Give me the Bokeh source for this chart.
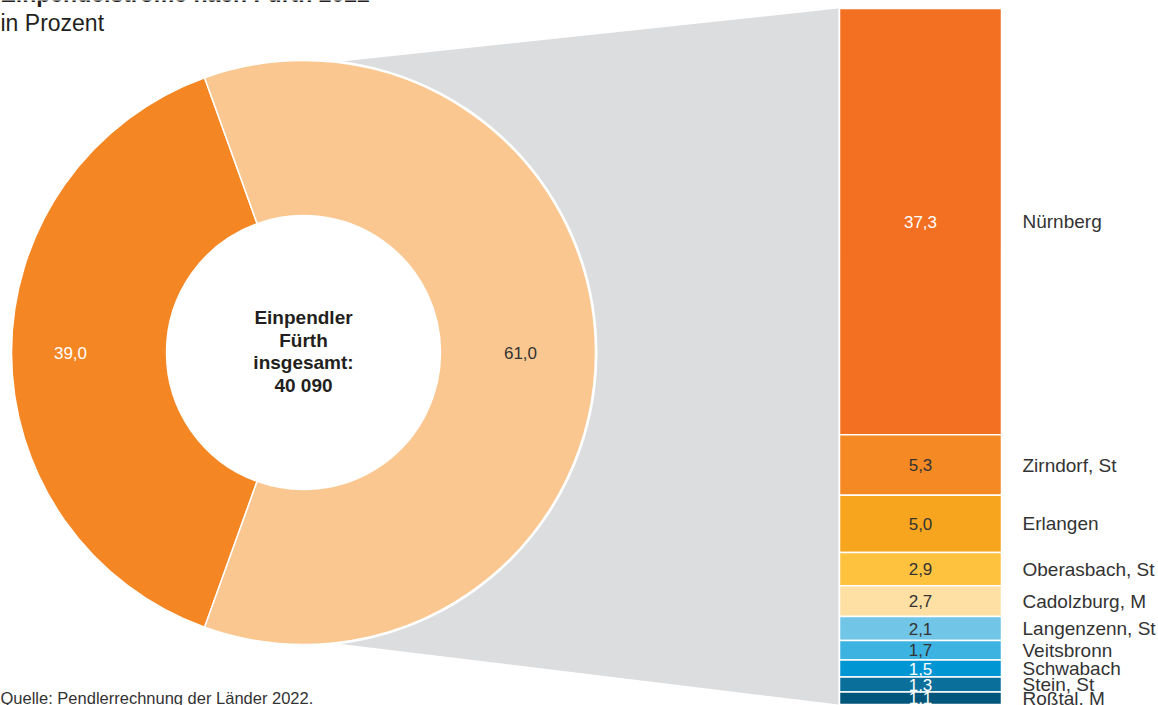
import math
from bokeh.plotting import figure
from bokeh.models import Range1d, ColumnDataSource
from bokeh.core.properties import value
from bokeh.embed import file_html
from bokeh.resources import INLINE

# ---------------- data ----------------
title_line1 = "Einpendelströme nach Fürth 2022"
subtitle = "in Prozent"
source_note = "Quelle: Pendlerrechnung der Länder 2022."
center_lines = ["Einpendler", "Fürth", "insgesamt:", "40 090"]

donut_names = ["übrige Wohnorte", "zehn wichtigste Wohnorte"]
donut_values = [39.0, 61.0]
donut_colors = ["#f58624", "#fbc791"]
donut_text_colors = ["#ffffff", "#333333"]
donut_label_radius = [233, 217]

bar_places = ["Nürnberg", "Zirndorf, St", "Erlangen", "Oberasbach, St", "Cadolzburg, M",
              "Langenzenn, St", "Veitsbronn", "Schwabach", "Stein, St", "Roßtal, M"]
bar_values = [37.3, 5.3, 5.0, 2.9, 2.7, 2.1, 1.7, 1.5, 1.3, 1.1]
bar_colors = ["#f37022", "#f58a24", "#f7a51e", "#fec23e", "#fee0a4",
              "#71c5e7", "#3db3e1", "#0096d4", "#0b6f9c", "#02557b"]
bar_text_colors = ["#ffffff", "#333333", "#333333", "#333333", "#333333",
                   "#333333", "#333333", "#ffffff", "#ffffff", "#ffffff"]

# ---------------- layout constants (pixel space) ----------------
W, H = 1158, 705
CX, CY = 303, 352          # donut centre
R_OUT, R_IN = 292, 137
BAR_LEFT, BAR_RIGHT = 839, 1001
STACK_TOP, STACK_BOTTOM = 8, 704
FONT = "Liberation Sans"
DARK = "#333333"

def de(v):
    return f"{v:.1f}".replace(".", ",")

p = figure(width=W, height=H, x_range=Range1d(0, W), y_range=Range1d(H, 0),
           output_backend="svg", toolbar_location=None, min_border=0)
p.axis.visible = False
p.grid.visible = False
p.outline_line_color = None
p.background_fill_color = "white"
p.border_fill_color = "white"

# secondary range for the stacked bars, in percent
total_bars = sum(bar_values)
ppp = (STACK_BOTTOM - STACK_TOP) / total_bars
p.extra_y_ranges = {"bars": Range1d(start=(STACK_BOTTOM - H) / ppp, end=STACK_BOTTOM / ppp)}

# grey connector
top_y = CY - (R_OUT - 5)
bot_y = CY + (R_OUT - 5)
p.patch(x=[CX, BAR_LEFT - 1, BAR_LEFT - 1, CX], y=[top_y, STACK_TOP, STACK_BOTTOM, bot_y],
        fill_color="#dcdddf", line_color=None)

# white disc behind donut
p.scatter(x=[CX], y=[CY], size=2 * R_OUT + 4, marker="circle",
          fill_color="white", line_color=None)

# donut
tot = sum(donut_values)
frac0 = donut_values[0] / tot
a0s = math.pi - frac0 * math.pi
a0e = math.pi + frac0 * math.pi
starts = [a0s, a0e]
ends = [a0e, a0s + 2 * math.pi]
mids = [(s + e) / 2 for s, e in zip(starts, ends)]
dsrc = ColumnDataSource(dict(
    start=starts, end=ends, color=donut_colors, name=donut_names,
    lx=[CX + r * math.cos(m) for r, m in zip(donut_label_radius, mids)],
    ly=[CY - r * math.sin(m) for r, m in zip(donut_label_radius, mids)],
    txt=[de(v) for v in donut_values], tcol=donut_text_colors))
p.annular_wedge(x=CX, y=CY, inner_radius=R_IN, outer_radius=R_OUT,
                start_angle="start", end_angle="end", fill_color="color",
                line_color="white", line_width=1.5, source=dsrc)
p.text(x="lx", y="ly", text="txt", text_color="tcol", source=dsrc,
       text_font=value(FONT), text_font_size="17px", text_align="center", text_baseline="middle")

# centre text
line_gap = 22.6
cy0 = 317
p.text(x=[CX] * len(center_lines), y=[cy0 + i * line_gap for i in range(len(center_lines))],
       text=center_lines, text_font=value(FONT), text_font_size="19px", text_font_style="bold",
       text_color="#231f20", text_align="center", text_baseline="middle")

# stacked bars (top to bottom in list order)
tops, bottoms = [], []
acc = total_bars
for v in bar_values:
    tops.append(acc)
    bottoms.append(acc - v)
    acc -= v
bsrc = ColumnDataSource(dict(
    top=tops, bottom=bottoms, mid=[(t + b) / 2 for t, b in zip(tops, bottoms)],
    color=bar_colors, tcol=bar_text_colors, place=bar_places,
    txt=[de(v) for v in bar_values]))
p.quad(left=BAR_LEFT, right=BAR_RIGHT, top="top", bottom="bottom", fill_color="color",
       line_color="white", line_width=1.5, source=bsrc, y_range_name="bars")
p.text(x=(BAR_LEFT + BAR_RIGHT) / 2, y="mid", text="txt", text_color="tcol", source=bsrc,
       y_range_name="bars", text_font=value(FONT), text_font_size="17px",
       text_align="center", text_baseline="middle")
p.text(x=1022, y="mid", text="place", text_color=DARK, source=bsrc, y_range_name="bars",
       text_font=value(FONT), text_font_size="19px", text_align="left", text_baseline="middle")

# titles and note
p.text(x=[0], y=[6], text=[title_line1], text_font=value(FONT), text_font_size="23px",
       text_font_style="bold", text_color="#231f20", text_align="left", text_baseline="bottom")
p.text(x=[0], y=[22], text=[subtitle], text_font=value(FONT), text_font_size="23px",
       text_color="#231f20", text_align="left", text_baseline="middle")
p.text(x=[0], y=[697], text=[source_note], text_font=value(FONT), text_font_size="16.5px",
       text_color=DARK, text_align="left", text_baseline="middle")

open("out.html", "w").write(file_html(p, INLINE))
